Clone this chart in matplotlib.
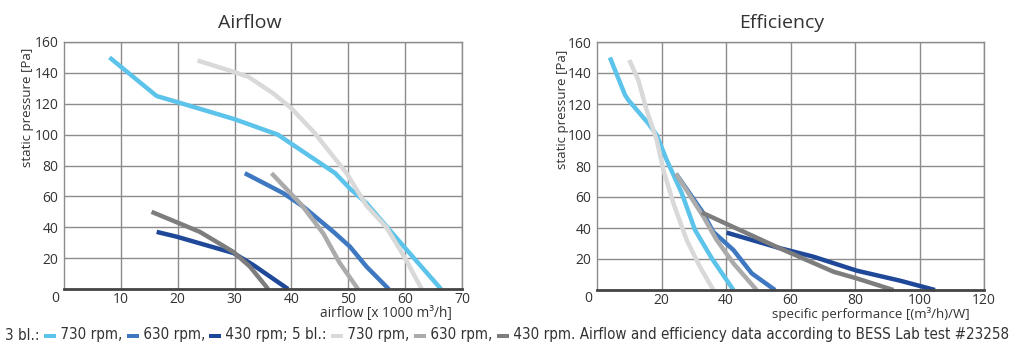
import matplotlib
matplotlib.use("Agg")
import matplotlib.pyplot as plt
from matplotlib import font_manager
from matplotlib.font_manager import FontProperties
from matplotlib.patches import Rectangle

# ---------------- data ----------------
series_labels = ["730 rpm", "630 rpm", "430 rpm"]

af_3_730_x = [8, 16.3, 20, 30, 37.6, 47.7, 50.3, 53.2, 60, 66.3]
af_3_730_y = [150, 125, 121, 110, 100, 75, 65, 55.6, 26.5, 0]
af_3_630_x = [31.8, 38.6, 42.1, 47.4, 50.3, 53.2, 57.1]
af_3_630_y = [75, 62, 53.3, 37, 27.4, 14.5, 0]
af_3_430_x = [16.3, 19.8, 29.8, 33.3, 39.4]
af_3_430_y = [37, 33.9, 23.3, 15.5, 0]
af_5_730_x = [23.5, 29.8, 32.4, 36.8, 40, 44.1, 49.7, 53.2, 56.7, 60, 62.9]
af_5_730_y = [148, 140.7, 137.5, 126.7, 117, 101, 75, 54, 40, 20, 0]
af_5_630_x = [36.5, 41.8, 45.6, 48.5, 51.7]
af_5_630_y = [75, 54.4, 36, 16.8, 0]
af_5_430_x = [15.4, 23.9, 29.8, 32.7, 35.9]
af_5_430_y = [50, 37, 24, 14.5, 0]

ef_3_730_x = [4.0, 8.7, 9.7, 15.9, 18.5, 21.6, 26.3, 30.4, 35.6, 42.3]
ef_3_730_y = [150, 125.8, 122.6, 107.5, 100, 83.9, 62.4, 38.7, 20.4, 0]
ef_3_630_x = [24.5, 33, 36, 42.3, 48, 55.2]
ef_3_630_y = [75, 49.5, 37.6, 25.8, 10.7, 0]
ef_3_430_x = [40.2, 56.7, 67.1, 80.5, 94, 104.8]
ef_3_430_y = [37, 27, 21.5, 12.5, 6, 0]
ef_5_730_x = [10.0, 12.8, 15.4, 18.5, 20.6, 23.7, 27.8, 31.9, 36.1]
ef_5_730_y = [148.4, 135.5, 116, 96.8, 77.4, 55.9, 32.3, 15, 0]
ef_5_630_x = [24.5, 33, 37.1, 42.3, 49.5]
ef_5_630_y = [75, 47.3, 32.3, 17.2, 0]
ef_5_430_x = [32.5, 40.2, 56.7, 73.3, 80.5, 91.9]
ef_5_430_y = [50, 42.6, 26.9, 11.8, 7.5, 0]

af_xticks = [10, 20, 30, 40, 50, 60, 70]
ef_xticks = [20, 40, 60, 80, 100, 120]
yticks = [20, 40, 60, 80, 100, 120, 140, 160]

colors_3 = ["#5cc3ea", "#3d78c1", "#1f4899"]
colors_5 = ["#d9d9d9", "#ababab", "#7d7d7d"]

footer_prefix = "3 bl.: "
footer_mid = " 430 rpm; 5 bl.: "
footer_end = " 430 rpm. Airflow and efficiency data according to BESS Lab test #23258"

# ---------------- fonts ----------------
avail = {f.name for f in font_manager.fontManager.ttflist}
main_font = "Open Sans" if "Open Sans" in avail else "DejaVu Sans"
plt.rcParams["font.family"] = [main_font, "DejaVu Sans"]

# look for a condensed / narrow font file for the footer
foot_prop = None
cands = ["LiberationSansNarrow-Regular", "DejaVuSansCondensed.ttf", "RobotoCondensed-Regular",
         "OpenSans_Condensed-Regular", "OpenSansCondensed"]
files = [f.fname for f in font_manager.fontManager.ttflist]
for c in cands:
    hit = [p for p in files if c.lower() in p.lower().replace(" ", "")]
    if hit:
        foot_prop = FontProperties(fname=hit[0])
        break
if foot_prop is None:
    import glob
    for pat in ["/usr/share/fonts/**/*Narrow*Regular*.ttf", "/usr/share/fonts/**/*Condensed*.ttf"]:
        g = [p for p in glob.glob(pat, recursive=True) if "Bold" not in p and "Oblique" not in p and "Italic" not in p]
        if g:
            foot_prop = FontProperties(fname=sorted(g)[0])
            break
if foot_prop is None:
    foot_prop = FontProperties(family=main_font)

W, H = 1013, 359
fig = plt.figure(figsize=(W / 100, H / 100), dpi=100)
fig.patch.set_facecolor("white")

txt_col = "#333333"
grid_col = "#8c8c8c"


def fx(px):
    return px / W


def fy(py):
    return 1 - py / H


def style_axes(ax, xmax, xticks):
    ax.set_xlim(0, xmax)
    ax.set_ylim(0, 160)
    ax.set_xticks(xticks)
    ax.set_yticks(yticks)
    ax.grid(True, color=grid_col, lw=1.0)
    ax.set_axisbelow(True)
    for s in ["top", "right", "left"]:
        ax.spines[s].set_color(grid_col)
        ax.spines[s].set_linewidth(1.0)
    ax.spines["bottom"].set_color("#444444")
    ax.spines["bottom"].set_linewidth(2.0)
    ax.tick_params(axis="x", length=0, labelsize=10, labelcolor=txt_col, pad=2)
    ax.tick_params(axis="y", length=0, labelsize=10, labelcolor=txt_col, pad=4)


lw = 3.2
# left axes: Airflow
ax1 = fig.add_axes([fx(64), fy(289), fx(462) - fx(64), fy(42) - fy(289)])
style_axes(ax1, 70, af_xticks)
for xs, ys, c in zip([af_3_730_x, af_3_630_x, af_3_430_x], [af_3_730_y, af_3_630_y, af_3_430_y], colors_3):
    ax1.plot(xs, ys, color=c, lw=lw, solid_capstyle="butt", solid_joinstyle="round", clip_on=False)
for xs, ys, c in zip([af_5_730_x, af_5_630_x, af_5_430_x], [af_5_730_y, af_5_630_y, af_5_430_y], colors_5):
    ax1.plot(xs, ys, color=c, lw=lw, solid_capstyle="butt", solid_joinstyle="round", clip_on=False)

# right axes: Efficiency
ax2 = fig.add_axes([fx(597), fy(290), fx(984) - fx(597), fy(42) - fy(290)])
style_axes(ax2, 120, ef_xticks)
for xs, ys, c in zip([ef_3_730_x, ef_3_630_x, ef_3_430_x], [ef_3_730_y, ef_3_630_y, ef_3_430_y], colors_3):
    ax2.plot(xs, ys, color=c, lw=lw, solid_capstyle="butt", solid_joinstyle="round", clip_on=False)
for xs, ys, c in zip([ef_5_730_x, ef_5_630_x, ef_5_430_x], [ef_5_730_y, ef_5_630_y, ef_5_430_y], colors_5):
    ax2.plot(xs, ys, color=c, lw=lw, solid_capstyle="butt", solid_joinstyle="round", clip_on=False)

# origin "0" labels
fig.text(fx(55), fy(298), "0", ha="center", va="center", fontsize=10, color=txt_col)
fig.text(fx(588), fy(298), "0", ha="center", va="center", fontsize=10, color=txt_col)

# titles
fig.text(fx(250), fy(23), "Airflow", ha="center", va="center", fontsize=14, color=txt_col)
fig.text(fx(782), fy(23), "Efficiency", ha="center", va="center", fontsize=14, color=txt_col)

# y labels
fig.text(fx(27), fy(48), "static pressure [Pa]", rotation=90, ha="center", va="top", fontsize=9.5, color=txt_col)
fig.text(fx(562), fy(50), "static pressure [Pa]", rotation=90, ha="center", va="top", fontsize=9.5, color=txt_col)

# x labels
fig.text(fx(452), fy(314), "airflow [x 1000 m³/h]", ha="right", va="center", fontsize=9.8, color=txt_col)
fig.text(fx(970), fy(314), "specific performance [(m³/h)/W]", ha="right", va="center", fontsize=9.5, color=txt_col)

# footer with inline swatches
fig.canvas.draw()
renderer = fig.canvas.get_renderer()
pieces = [("t", footer_prefix), ("s", colors_3[0]), ("t", " " + series_labels[0] + ", "),
          ("s", colors_3[1]), ("t", " " + series_labels[1] + ", "),
          ("s", colors_3[2]), ("t", footer_mid),
          ("s", colors_5[0]), ("t", " " + series_labels[0] + ", "),
          ("s", colors_5[1]), ("t", " " + series_labels[1] + ", "),
          ("s", colors_5[2]), ("t", footer_end)]


def layout_footer(fs, draw):
    x = 5.0
    yc = 335.0
    for kind, val in pieces:
        if kind == "t":
            fp = foot_prop.copy()
            fp.set_size(fs)
            t = fig.text(fx(x), fy(yc), val, ha="left", va="center",
                         fontproperties=fp, color=txt_col)
            bb = t.get_window_extent(renderer)
            x += bb.width
            if not draw:
                t.remove()
        else:
            sw = 12.0
            if draw:
                fig.patches.append(Rectangle((fx(x), fy(yc + 3)), sw / W, 4.0 / H,
                                             transform=fig.transFigure, facecolor=val,
                                             edgecolor="none"))
            x += sw
    return x

foot_fs = 11.0
end = layout_footer(foot_fs, False)
foot_fs = min(13.0, foot_fs * (1003 - 5) / (end - 5))
layout_footer(foot_fs, True)

fig.savefig("out.png", dpi=100, facecolor="white")
